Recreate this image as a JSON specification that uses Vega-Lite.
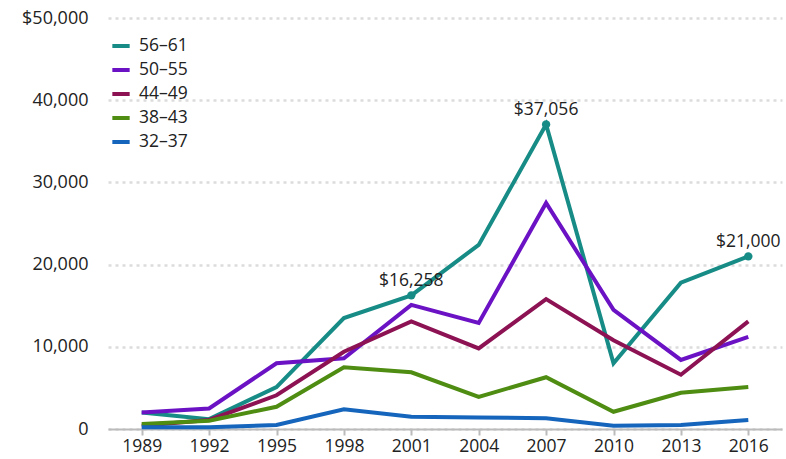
{
  "$schema": "https://vega.github.io/schema/vega-lite/v6.json",
  "width": 674,
  "height": 411,
  "autosize": {"type": "none"},
  "padding": {"left": 108, "top": 18, "right": 4, "bottom": 30},
  "background": "white",
  "config": {
    "view": {"stroke": null},
    "font": "Open Sans"
  },
  "data": {
    "values": [
      {"year": "1989", "group": "56–61", "value": 2000},
      {"year": "1992", "group": "56–61", "value": 1200},
      {"year": "1995", "group": "56–61", "value": 5100},
      {"year": "1998", "group": "56–61", "value": 13500},
      {"year": "2001", "group": "56–61", "value": 16258, "label": "$16,258"},
      {"year": "2004", "group": "56–61", "value": 22400},
      {"year": "2007", "group": "56–61", "value": 37056, "label": "$37,056"},
      {"year": "2010", "group": "56–61", "value": 8000},
      {"year": "2013", "group": "56–61", "value": 17800},
      {"year": "2016", "group": "56–61", "value": 21000, "label": "$21,000"},
      {"year": "1989", "group": "50–55", "value": 2000},
      {"year": "1992", "group": "50–55", "value": 2500},
      {"year": "1995", "group": "50–55", "value": 8000},
      {"year": "1998", "group": "50–55", "value": 8600},
      {"year": "2001", "group": "50–55", "value": 15100},
      {"year": "2004", "group": "50–55", "value": 12900},
      {"year": "2007", "group": "50–55", "value": 27500},
      {"year": "2010", "group": "50–55", "value": 14500},
      {"year": "2013", "group": "50–55", "value": 8400},
      {"year": "2016", "group": "50–55", "value": 11200},
      {"year": "1989", "group": "44–49", "value": 400},
      {"year": "1992", "group": "44–49", "value": 1100},
      {"year": "1995", "group": "44–49", "value": 4100},
      {"year": "1998", "group": "44–49", "value": 9400},
      {"year": "2001", "group": "44–49", "value": 13100},
      {"year": "2004", "group": "44–49", "value": 9800},
      {"year": "2007", "group": "44–49", "value": 15800},
      {"year": "2010", "group": "44–49", "value": 10800},
      {"year": "2013", "group": "44–49", "value": 6600},
      {"year": "2016", "group": "44–49", "value": 13100},
      {"year": "1989", "group": "38–43", "value": 600},
      {"year": "1992", "group": "38–43", "value": 1000},
      {"year": "1995", "group": "38–43", "value": 2700},
      {"year": "1998", "group": "38–43", "value": 7500},
      {"year": "2001", "group": "38–43", "value": 6900},
      {"year": "2004", "group": "38–43", "value": 3900},
      {"year": "2007", "group": "38–43", "value": 6300},
      {"year": "2010", "group": "38–43", "value": 2100},
      {"year": "2013", "group": "38–43", "value": 4400},
      {"year": "2016", "group": "38–43", "value": 5100},
      {"year": "1989", "group": "32–37", "value": 200},
      {"year": "1992", "group": "32–37", "value": 200},
      {"year": "1995", "group": "32–37", "value": 500},
      {"year": "1998", "group": "32–37", "value": 2400},
      {"year": "2001", "group": "32–37", "value": 1500},
      {"year": "2004", "group": "32–37", "value": 1400},
      {"year": "2007", "group": "32–37", "value": 1300},
      {"year": "2010", "group": "32–37", "value": 400},
      {"year": "2013", "group": "32–37", "value": 500},
      {"year": "2016", "group": "32–37", "value": 1100}
    ]
  },
  "encoding": {
    "x": {
      "field": "year", "type": "ordinal",
      "scale": {"type": "point", "padding": 0.5},
      "axis": {
        "title": null, "labelAngle": 0, "domainColor": "#bbb", "domainWidth": 2,
        "tickColor": "#bbb", "tickWidth": 2, "tickSize": 6, "labelPadding": 2, "grid": false,
        "labelFont": "Open Sans", "labelFontSize": 17.5, "labelColor": "#222"
      }
    },
    "y": {
      "field": "value", "type": "quantitative",
      "scale": {"domain": [0, 50000]},
      "axis": {
        "title": null, "values": [0, 10000, 20000, 30000, 40000, 50000],
        "labelExpr": "datum.value == 50000 ? '$50,000' : format(datum.value, ',')",
        "domain": false, "ticks": false, "labelPadding": 20,
        "labelFont": "Open Sans", "labelFontSize": 18, "labelColor": "#222",
        "grid": true, "gridColor": "#dcdcdc", "gridWidth": 2.5, "gridDash": [3, 4]
      }
    }
  },
  "layer": [
    {
      "mark": {"type": "line", "strokeWidth": 4},
      "encoding": {
        "color": {
          "field": "group", "type": "nominal",
          "scale": {
            "domain": ["56–61", "50–55", "44–49", "38–43", "32–37"],
            "range": ["#178c86", "#6b12c4", "#8c1253", "#4e8c12", "#1565bd"]
          },
          "legend": {
            "title": null, "orient": "none", "legendX": 2, "legendY": 17,
            "symbolType": "stroke", "symbolStrokeWidth": 4, "symbolSize": 300,
            "rowPadding": 4, "labelOffset": 7,
            "labelFont": "Open Sans", "labelFontSize": 17.5, "labelColor": "#222"
          }
        },
        "order": {"field": "group", "sort": "ascending"}
      }
    },
    {
      "transform": [{"filter": "datum.label"}],
      "mark": {"type": "point", "filled": true, "size": 70, "opacity": 1, "color": "#178c86"},
      "encoding": {}
    },
    {
      "transform": [{"filter": "datum.label"}],
      "mark": {"type": "text", "font": "Open Sans", "fontSize": 17.5, "color": "#222", "baseline": "bottom", "dy": -5},
      "encoding": {"text": {"field": "label"}}
    }
  ]
}
